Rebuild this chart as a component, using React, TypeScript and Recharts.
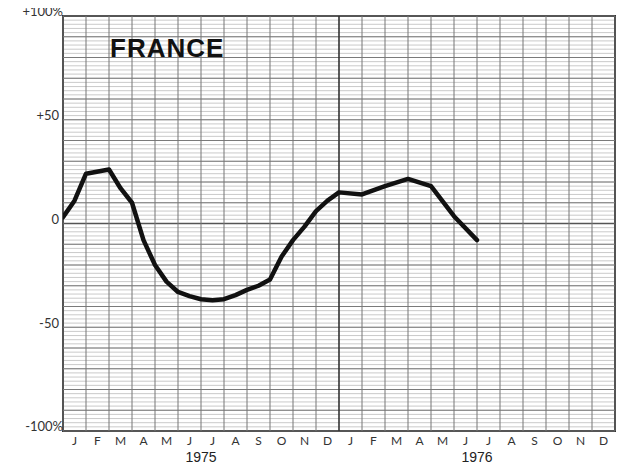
import { LineChart, Line, XAxis, YAxis, CartesianGrid, ReferenceLine, ReferenceArea } from "recharts"

const MONTHS = ["J", "F", "M", "A", "M", "J", "J", "A", "S", "O", "N", "D"]
const YEARS = ["1975", "1976"]

// months since start of Jan 1975
const monthPos = [0, 0.5, 1, 2, 2.5, 3, 3.5, 4, 4.5, 5, 5.5, 6, 6.5, 7, 7.5, 8, 8.5, 9, 9.5, 10, 10.5, 11, 11.5, 12, 13, 14, 15, 16, 17, 18]
const change = [3, 11, 24, 26, 17, 10, -8, -20, -28, -33, -35, -36.5, -37, -36.5, -34.5, -32, -30, -27, -16, -8, -1.5, 6, 11, 15, 14, 18, 21.5, 18, 3.5, -8]

const yLabelValues = [100, 50, 0, -50, -100]
const yLabelTexts = ["+100%", "+50", "0", "-50", "-100%"]

const data = monthPos.map((m, i) => ({ m, v: change[i] }))
const gridY = Array.from({ length: 101 }, (_, i) => -100 + i * 2)
const majorY = gridY.filter(v => v % 10 === 0)
const monthLines = Array.from({ length: 25 }, (_, i) => i)
const xTicks = [...Array.from({ length: 24 }, (_, i) => i + 0.5), 6, 18]

const FONT = "Lato, 'Open Sans', sans-serif"

function XTick({ x, y, payload }: any) {
  const v = payload.value
  if (Number.isInteger(v)) {
    return (
      <text x={x} y={y + 27} textAnchor="middle" dominantBaseline="middle" fontSize={14} fill="#222" fontFamily="'Liberation Sans', Arial, sans-serif">
        {YEARS[v < 12 ? 0 : 1]}
      </text>
    )
  }
  return (
    <text x={x} y={y + 11} textAnchor="middle" dominantBaseline="middle" fontSize={12} fill="#333" fontFamily={FONT}>
      {MONTHS[Math.floor(v) % 12]}
    </text>
  )
}

function YTick({ x, y, payload }: any) {
  const idx = yLabelValues.indexOf(payload.value)
  if (idx < 0) return null
  const txt = yLabelTexts[idx]
  const pct = txt.endsWith("%")
  return (
    <text x={pct ? x + 2 : x - 2} y={y - 3} textAnchor="end" dominantBaseline="middle" fontSize={13} fill="#333" fontFamily={FONT}>
      {txt}
    </text>
  )
}

export default function App() {
  return (
    <div style={{ position: "relative", width: 627, height: 467, margin: "-8px 0 0 -8px", background: "#fff" }}>
      <LineChart width={627} height={467} data={data} margin={{ top: 16, right: 12, bottom: 0, left: 0 }}>
        <CartesianGrid vertical={false} stroke="#bdbdbd" strokeWidth={0.8} />
        <XAxis
          dataKey="m"
          type="number"
          domain={[0, 24]}
          ticks={xTicks}
          interval={0}
          tick={<XTick />}
          tickLine={false}
          axisLine={false}
          tickSize={0}
          tickMargin={0}
          height={36}
          allowDataOverflow
        />
        <YAxis
          type="number"
          domain={[-100, 100]}
          ticks={gridY}
          interval={0}
          tick={<YTick />}
          tickLine={false}
          axisLine={false}
          tickSize={0}
          tickMargin={2}
          width={63}
          allowDataOverflow
        />
        {majorY.map(v => (
          <ReferenceLine key={"y" + v} y={v} stroke={v === 0 ? "#555" : "#7a7a7a"} strokeWidth={v === 0 ? 1.3 : 1} />
        ))}
        {monthLines.map(m => (
          <ReferenceLine key={"x" + m} x={m} stroke={m === 12 ? "#333" : "#777"} strokeWidth={m === 12 ? 1.6 : 1} />
        ))}
        <ReferenceArea x1={0} x2={24} y1={-100} y2={100} fill="none" stroke="#333" strokeWidth={2} />
        <Line
          type="linear"
          dataKey="v"
          stroke="#111"
          strokeWidth={4.5}
          strokeLinejoin="round"
          strokeLinecap="round"
          dot={false}
          isAnimationActive={false}
        />
      </LineChart>
      <div
        style={{
          position: "absolute",
          left: 110,
          top: 35,
          fontFamily: "'Liberation Sans', Arial, sans-serif",
          fontWeight: 700,
          fontSize: 26,
          lineHeight: 1,
          letterSpacing: 1,
          color: "#111",
        }}
      >
        FRANCE
      </div>
    </div>
  )
}
